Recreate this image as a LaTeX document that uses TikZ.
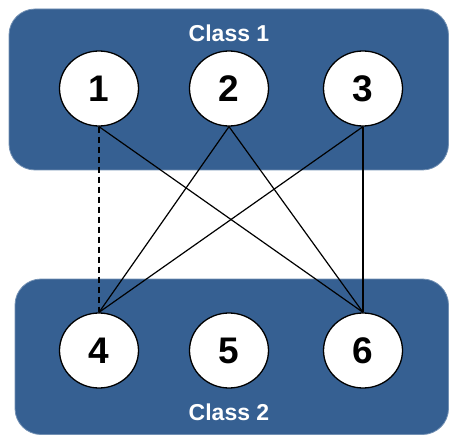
\documentclass[tikz,border=0pt]{standalone}
\usepackage{fontspec}
\setmainfont{Liberation Sans}
\usetikzlibrary{shapes.geometric}
\definecolor{classblue}{RGB}{54,96,146}
\begin{document}
\begin{tikzpicture}[x=1pt,y=-1pt,
  classbox/.style={fill=classblue,draw=classblue!70!white,line width=0.8pt,rounded corners=26pt},
  vert/.style={ellipse,draw=black,fill=white,line width=1.3pt,minimum width=79pt,minimum height=75pt,inner sep=0pt,font=\fontsize{37}{40}\selectfont\bfseries},
  classlabel/.style={text=white,font=\fontsize{23}{25}\selectfont\bfseries},
  edge/.style={draw=black,line width=1.2pt}]
\useasboundingbox (0,0) rectangle (449,435);
\path[classbox] (9,9) rectangle (448.5,170);
\path[classbox] (15,279) rectangle (448.5,434.5);
\node[classlabel] (c1) at (229,33) {Class 1};
\node[classlabel] (c2) at (229,412) {Class 2};
\node[vert] (n1) at (99,88.5) {1};
\node[vert] (n2) at (229,88.5) {2};
\node[vert] (n3) at (363,88.5) {3};
\node[vert] (n4) at (99,350.5) {4};
\node[vert] (n5) at (229,350.5) {5};
\node[vert] (n6) at (363,350.5) {6};
\draw[edge,dash pattern=on 6pt off 4pt] (n1.south) -- (n4.north);
\draw[edge] (n1.south) -- (n6.north);
\draw[edge] (n2.south) -- (n4.north);
\draw[edge] (n2.south) -- (n6.north);
\draw[edge] (n3.south) -- (n4.north);
\draw[edge] (n3.south) -- (n6.north);
\end{tikzpicture}
\end{document}
